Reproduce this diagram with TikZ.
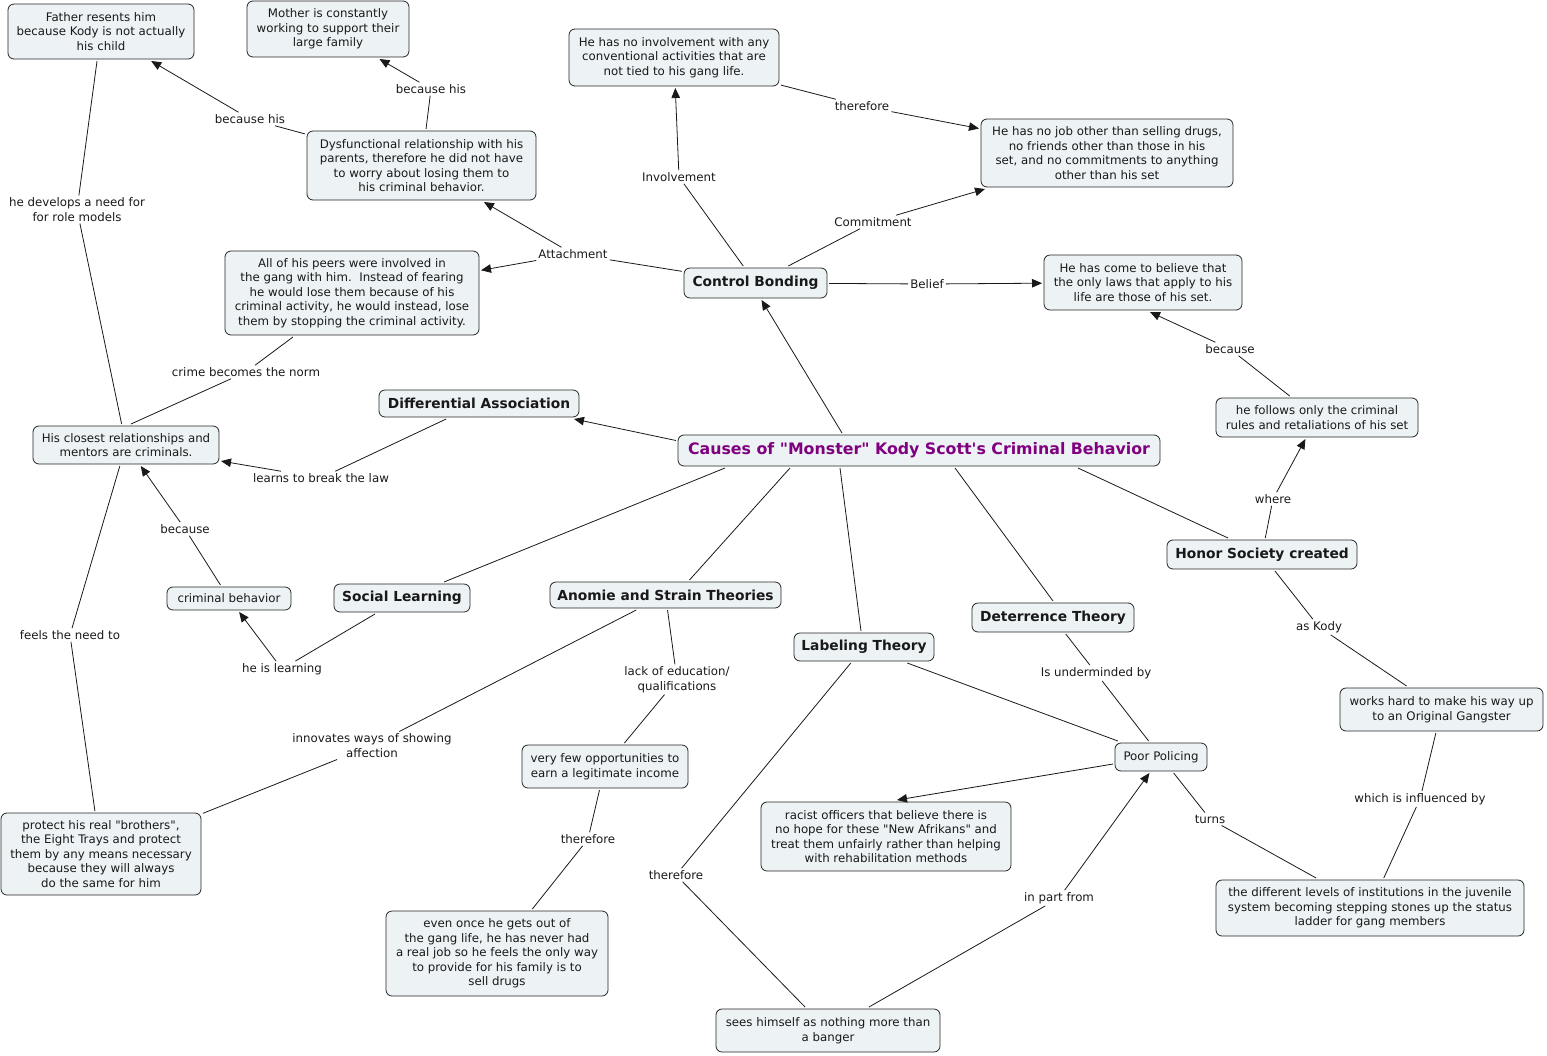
\documentclass[tikz,border=0pt]{standalone}
\usepackage{fontspec}
\setmainfont{DejaVu Sans}[Ligatures=TeXOff]
\usetikzlibrary{arrows.meta}
\definecolor{cfill}{RGB}{237,243,245}
\definecolor{ctitle}{RGB}{128,0,128}
\begin{document}
\begin{tikzpicture}[x=1pt,y=-1pt,
  concept/.style={draw=black!85, line width=0.8pt, rounded corners=6pt, fill=cfill,
    align=center, inner sep=0pt, outer sep=2pt, text=black!90,
    font=\fontsize{11.8}{14.5}\selectfont},
  bconcept/.style={concept, font=\fontsize{13.8}{16}\selectfont\bfseries},
  lbl/.style={align=center, inner sep=2pt, text=black!90, font=\fontsize{11.8}{14.5}\selectfont},
  link/.style={line width=0.8pt, draw=black!90},
  arr/.style={link, -{Triangle[length=10pt,width=8.5pt]}}
]
\useasboundingbox (0,0) rectangle (1547,1055);

% concepts
\node[concept, minimum width=186pt, minimum height=55pt] (father) at (101,31.5) {Father resents him\\because Kody is not actually\\his child};
\node[concept, minimum width=162pt, minimum height=56pt] (mother) at (328,29) {Mother is constantly\\working to support their\\large family};
\node[concept, minimum width=210pt, minimum height=57pt] (noinv) at (674,57.5) {He has no involvement with any\\conventional activities that are\\not tied to his gang life.};
\node[concept, minimum width=252pt, minimum height=68pt] (nojob) at (1107,153) {He has no job other than selling drugs,\\no friends other than those in his\\set, and no commitments to anything\\other than his set};
\node[concept, minimum width=229pt, minimum height=69pt] (dysf) at (421.5,165.5) {Dysfunctional relationship with his\\parents, therefore he did not have\\to worry about losing them to\\his criminal behavior.};
\node[concept, minimum width=254pt, minimum height=84pt] (peers) at (352,293) {All of his peers were involved in\\the gang with him.\ \ Instead of fearing\\he would lose them because of his\\criminal activity, he would instead, lose\\them by stopping the criminal activity.};
\node[bconcept, minimum width=143pt, minimum height=30pt] (control) at (755.5,283) {Control Bonding};
\node[concept, minimum width=198pt, minimum height=55pt] (believe) at (1143,282.5) {He has come to believe that\\the only laws that apply to his\\life are those of his set.};
\node[bconcept, minimum width=200pt, minimum height=27pt] (diffassoc) at (479,403.5) {Differential Association};
\node[concept, minimum width=186pt, minimum height=38pt] (closest) at (126,445) {His closest relationships and\\mentors are criminals.};
\node[bconcept, minimum width=482pt, minimum height=31pt, text=ctitle, font=\fontsize{15.8}{18}\selectfont\bfseries] (causes) at (919,450.5) {Causes of "Monster" Kody Scott's Criminal Behavior};
\node[concept, minimum width=202pt, minimum height=39pt] (follows) at (1317,417.5) {he follows only the criminal\\rules and retaliations of his set};
\node[bconcept, minimum width=190pt, minimum height=29pt] (honor) at (1262,554.5) {Honor Society created};
\node[concept, minimum width=124pt, minimum height=23pt] (crimbeh) at (229,598.5) {criminal behavior};
\node[bconcept, minimum width=136pt, minimum height=28pt] (social) at (402,598) {Social Learning};
\node[bconcept, minimum width=231pt, minimum height=26pt] (anomie) at (665.5,595) {Anomie and Strain Theories};
\node[bconcept, minimum width=162pt, minimum height=29pt] (deterrence) at (1053,617.5) {Deterrence Theory};
\node[bconcept, minimum width=140pt, minimum height=28pt] (labeling) at (864,647) {Labeling Theory};
\node[concept, minimum width=203pt, minimum height=43pt] (works) at (1441.5,709.5) {works hard to make his way up\\to an Original Gangster};
\node[concept, minimum width=92pt, minimum height=28pt] (poor) at (1161,757) {Poor Policing};
\node[concept, minimum width=166pt, minimum height=43pt] (fewopp) at (605,766.5) {very few opportunities to\\earn a legitimate income};
\node[concept, minimum width=250pt, minimum height=69pt] (racist) at (886,836.5) {racist officers that believe there is\\no hope for these "New Afrikans" and\\treat them unfairly rather than helping\\with rehabilitation methods};
\node[concept, minimum width=200pt, minimum height=82pt] (protect) at (101,854) {protect his real "brothers",\\the Eight Trays and protect\\them by any means necessary\\because they will always\\do the same for him};
\node[concept, minimum width=308pt, minimum height=56pt] (different) at (1370,908) {the different levels of institutions in the juvenile\\system becoming stepping stones up the status\\ladder for gang members};
\node[concept, minimum width=222pt, minimum height=85pt] (evenonce) at (497,953.5) {even once he gets out of\\the gang life, he has never had\\a real job so he feels the only way\\to provide for his family is to\\sell drugs};
\node[concept, minimum width=224pt, minimum height=43pt] (sees) at (828,1030.5) {sees himself as nothing more than\\a banger};

% linking phrases
\node[lbl] (Lbh1) at (250,119) {because his};
\node[lbl] (Lbh2) at (431,89) {because his};
\node[lbl] (Linv) at (679,177) {Involvement};
\node[lbl] (Lther1) at (862,106) {therefore};
\node[lbl] (Lcomm) at (873,222) {Commitment};
\node[lbl] (Latt) at (573,254) {Attachment};
\node[lbl] (Lbel) at (927,284) {Belief};
\node[lbl] (Llearn) at (321,478) {learns to break the law};
\node[lbl] (Lnorm) at (246,372) {crime becomes the norm};
\node[lbl] (Ldev) at (77,209.5) {he develops a need for\\for role models};
\node[lbl] (Lfeels) at (70,635) {feels the need to};
\node[lbl] (Lbec1) at (185,529) {because};
\node[lbl] (Lhel) at (282,669) {he is learning};
\node[lbl] (Lwhere) at (1273,499) {where};
\node[lbl] (Lbec2) at (1230,349) {because};
\node[lbl] (Lkody) at (1319,627) {as Kody};
\node[lbl] (Linfl) at (1420,799) {which is influenced by};
\node[lbl] (Llack) at (677,679.5) {lack of education/\\qualifications};
\node[lbl] (Lther2) at (588,839) {therefore};
\node[lbl] (Linnov) at (372,745.5) {innovates ways of showing\\affection};
\node[lbl] (Lunder) at (1096,673) {Is underminded by};
\node[lbl] (Lturns) at (1210,819) {turns};
\node[lbl] (Lther3) at (676,875) {therefore};
\node[lbl] (Lpart) at (1059,898) {in part from};

% connections
\draw[link] (dysf) -- (Lbh1); \draw[arr] (Lbh1) -- (father);
\draw[link] (dysf) -- (Lbh2); \draw[arr] (Lbh2) -- (mother);
\draw[link] (control) -- (Linv); \draw[arr] (Linv) -- (noinv);
\draw[link] (noinv) -- (Lther1); \draw[arr] (Lther1) -- (nojob);
\draw[link] (control) -- (Lcomm); \draw[arr] (Lcomm) -- (nojob);
\draw[link] (control) -- (Latt); \draw[arr] (Latt) -- (dysf); \draw[arr] (Latt) -- (peers);
\draw[link] (control) -- (Lbel); \draw[arr] (Lbel) -- (believe);
\draw[arr] ([xshift=-77pt]causes.north) -- ([xshift=6pt]control.south);
\draw[arr] ([yshift=10pt]causes.west) -- ([xshift=-7pt]diffassoc.south east);
\draw[link] (diffassoc) -- (Llearn); \draw[arr] (Llearn) -- (closest);
\draw[link] (peers) -- (Lnorm); \draw[link] (Lnorm) -- ([xshift=5pt]closest.north);
\draw[link] (father) -- (Ldev); \draw[link] (Ldev) -- (closest);
\draw[link] (closest) -- (Lfeels); \draw[link] (Lfeels) -- (protect);
\draw[link] (crimbeh) -- (Lbec1); \draw[arr] (Lbec1) -- (closest);
\draw[link] (social) -- (Lhel); \draw[arr] (Lhel) -- (crimbeh);
\draw[link] ([xshift=-194pt]causes.south) -- ([xshift=42pt]social.north);
\draw[link] ([xshift=-129pt]causes.south) -- ([xshift=24pt]anomie.north);
\draw[link] ([xshift=-79pt]causes.south) -- ([xshift=-3pt]labeling.north);
\draw[link] ([xshift=36pt]causes.south) -- (deterrence.north);
\draw[link] ([xshift=159pt]causes.south) -- ([xshift=-34pt]honor.north);
\draw[link] (honor) -- (Lwhere); \draw[arr] (Lwhere) -- (follows);
\draw[link] (follows) -- (Lbec2); \draw[arr] (Lbec2) -- ([xshift=7pt]believe.south);
\draw[link] (honor) -- (Lkody); \draw[link] (Lkody) -- (works);
\draw[link] (works) -- (Linfl); \draw[link] (Linfl) -- (different);
\draw[link] (anomie) -- (Llack); \draw[link] (Llack) -- (fewopp);
\draw[link] (fewopp) -- (Lther2); \draw[link] (Lther2) -- (evenonce);
\draw[link] (anomie) -- (Linnov); \draw[link] (Linnov) -- (protect);
\draw[link] (deterrence) -- (Lunder); \draw[link] (Lunder) -- (poor);
\draw[link] (labeling) -- (poor);
\draw[arr] ([yshift=-7pt]poor.west) -- ([xshift=11pt]racist.north);
\draw[link] (poor) -- (Lturns); \draw[link] (Lturns) -- (different);
\draw[link] (labeling) -- (Lther3); \draw[link] (Lther3) -- (sees);
\draw[link] (sees) -- (Lpart); \draw[arr] (Lpart) -- (poor);
\end{tikzpicture}
\end{document}
